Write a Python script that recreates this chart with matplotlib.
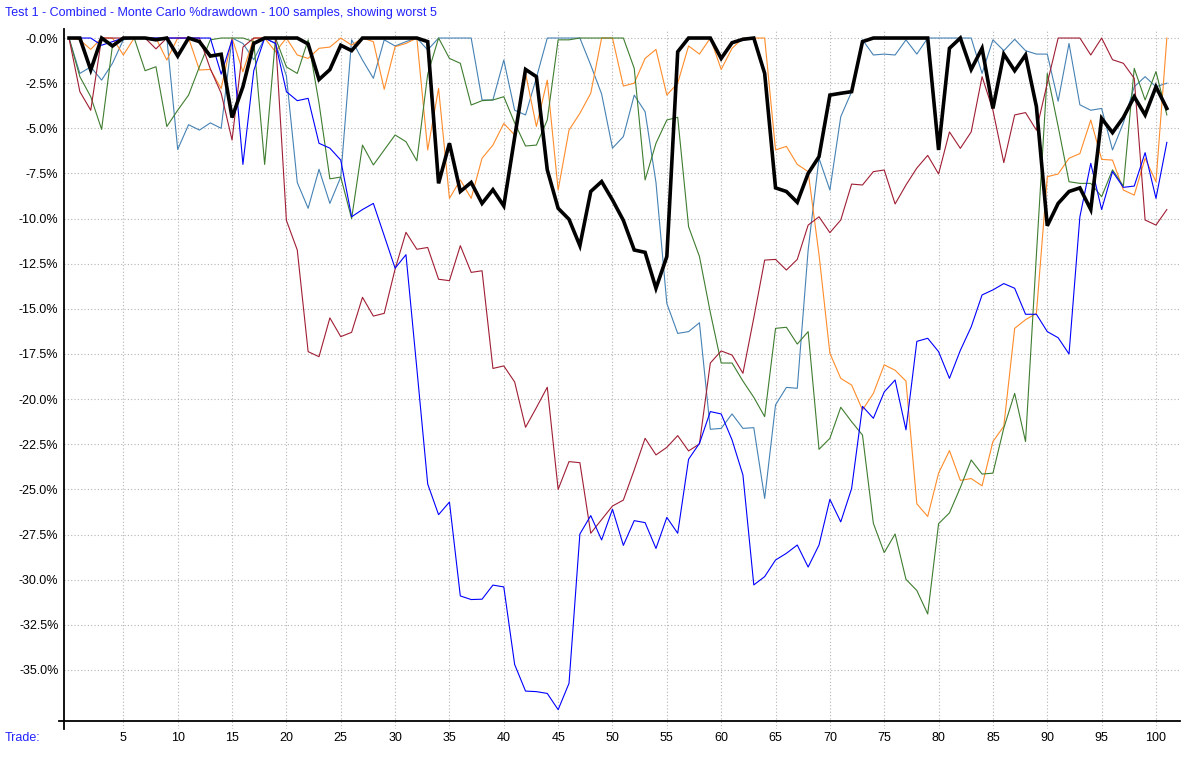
import matplotlib
matplotlib.use('Agg')
import matplotlib.pyplot as plt
from matplotlib.ticker import FuncFormatter

plt.rcParams['font.family'] = ['Liberation Sans', 'DejaVu Sans']

title = "Test 1 - Combined - Monte Carlo %drawdown - 100 samples, showing worst 5"

trades = list(range(102))

# % drawdown per trade for the five worst samples, plus the bold one
dd_steel = [0, -1.96, -1.6, -2.33, -1.4, -0.1, 0, 0, 0, 0,
            -6.17, -4.8, -5.1, -4.7, -5.0, 0, -0.3, -1.2, 0, -0.3,
            -2.1, -8.0, -9.43, -7.27, -9.16, -7.7, -0.1, -1.22, -2.23, -0.1,
            -0.44, -0.2, 0, -0.66, 0, 0, 0, 0, -3.43, -3.43,
            -1.22, -4.0, -4.26, -2.2, 0, 0, 0, 0, -1.5, -3.1,
            -6.1, -5.46, -3.16, -4.08, -8.0, -14.7, -16.36, -16.26, -15.77, -21.67,
            -21.62, -20.82, -21.62, -21.58, -25.5, -20.32, -19.35, -19.4, -11.74, -6.66,
            -8.42, -4.36, -2.97, -0.1, -0.94, -0.89, -0.94, -0.1, -0.89, 0,
            0, 0, 0, 0, -1.96, -0.1, -0.7, -0.07, -0.7, -0.89,
            -0.89, -3.5, -0.3, -3.7, -4.0, -3.9, -6.2, -4.7, -2.7, -2.14,
            -2.7, -2.5]

dd_orange = [0, -0.1, -0.63, 0, 0, -0.94, 0, 0, 0, -1.22,
             0, 0, -1.77, -1.74, -2.8, 0, -1.87, 0, 0, -0.76,
             0, -0.94, -1.13, -0.57, -0.5, 0, -0.39, 0, -0.2, -2.84,
             -0.48, -0.3, 0, -6.2, -2.79, -8.88, -7.86, -8.88, -6.66, -5.93,
             -4.73, -5.37, -1.96, -4.9, -2.33, -8.42, -5.1, -4.17, -3.06, 0,
             0, -2.66, -2.5, -1.13, -0.63, -3.16, -2.5, -0.44, -0.89, 0,
             -1.74, -0.57, 0, 0, 0, -6.2, -6.0, -7.0, -7.4, -12.0,
             -17.46, -18.85, -19.22, -20.6, -19.68, -18.1, -18.4, -19.0, -25.8, -26.5,
             -24.1, -22.85, -24.5, -24.4, -24.8, -22.35, -21.5, -16.08, -15.6, -15.25,
             -7.68, -7.53, -6.66, -6.4, -4.54, -6.72, -6.76, -8.42, -8.7, -6.66,
             -7.96, 0]

dd_green = [0, -2.14, -3.25, -5.06, -0.4, 0, 0, -1.81, -1.59, -4.9,
            -4.0, -3.16, -1.59, -0.1, 0, 0, 0, -0.2, -7.0, 0,
            -1.6, -1.96, -0.1, -3.6, -7.8, -7.7, -10.0, -5.93, -7.03, -6.2,
            -5.37, -5.74, -6.8, -2.0, 0, -1.13, -1.4, -3.71, -3.47, -3.43,
            -3.25, -4.7, -5.98, -5.93, -4.54, -0.1, -0.1, 0, 0, 0,
            0, 0, -1.68, -7.86, -5.83, -4.54, -4.39, -10.45, -12.1, -15.2,
            -18.0, -18.0, -19.0, -19.9, -20.97, -16.08, -16.02, -16.95, -16.26, -22.78,
            -22.17, -20.45, -21.25, -21.99, -26.88, -28.5, -27.47, -29.98, -30.6, -31.9,
            -26.9, -26.3, -24.9, -23.37, -24.15, -24.1, -21.6, -19.68, -22.35, -12.0,
            -1.96, -4.9, -7.96, -8.05, -8.05, -8.79, -7.3, -8.2, -1.68, -3.43,
            -1.86, -4.26]

dd_red = [0, -2.97, -4.0, 0, 0, 0, 0, 0, -0.6, 0,
          0, 0, 0, -1.7, -3.06, -5.65, -0.5, 0, 0, 0,
          -10.1, -11.74, -17.37, -17.65, -15.5, -16.54, -16.3, -14.36, -15.4, -15.25,
          -12.8, -10.76, -11.7, -11.6, -13.36, -13.44, -11.5, -12.98, -12.89, -18.3,
          -18.16, -19.05, -21.56, -20.47, -19.34, -25.0, -23.46, -23.52, -27.43, -26.67,
          -25.92, -25.59, -23.92, -22.17, -23.09, -22.67, -22.02, -22.87, -22.48, -18.0,
          -17.33, -17.56, -18.57, -15.5, -12.3, -12.26, -12.85, -12.26, -10.36, -9.9,
          -10.78, -10.08, -8.09, -8.14, -7.4, -7.31, -9.19, -8.14, -7.2, -6.5,
          -7.53, -5.2, -6.11, -5.2, -2.14, -4.0, -6.9, -4.26, -4.13, -5.1,
          -2.5, 0, 0, 0, -0.94, 0, -1.2, -1.4, -2.23, -10.08,
          -10.36, -9.5]

dd_blue = [0, 0, 0, -0.4, -0.2, 0, 0, 0, 0, 0,
           0, 0, 0, 0, -2.0, -0.1, -7.0, -1.8, 0, -0.3,
           -2.97, -3.47, -3.34, -5.83, -6.1, -6.76, -9.9, -9.5, -9.16, -10.95,
           -12.75, -12.0, -18.3, -24.7, -26.4, -25.7, -30.9, -31.1, -31.08, -30.3,
           -30.4, -34.7, -36.17, -36.2, -36.3, -37.2, -35.74, -27.47, -26.45, -27.8,
           -26.1, -28.1, -26.73, -26.84, -28.27, -26.55, -27.43, -23.33, -22.45, -20.69,
           -20.82, -22.26, -24.2, -30.29, -29.83, -28.91, -28.54, -28.08, -29.3, -28.08,
           -25.55, -26.8, -24.95, -20.4, -21.06, -19.6, -18.94, -21.7, -16.8, -16.63,
           -17.37, -18.85, -17.3, -16.0, -14.23, -13.95, -13.6, -13.86, -15.3, -15.3,
           -16.26, -16.6, -17.5, -9.9, -6.94, -9.5, -7.4, -8.27, -8.2, -6.35,
           -8.88, -5.78]

dd_bold = [0, 0, -1.77, 0, -0.44, 0, 0, 0, -0.1, 0,
           -1.0, 0, -0.2, -1.0, -0.9, -4.4, -2.7, -0.3, 0, 0,
           0, 0, -0.33, -2.3, -1.75, -0.4, -0.7, 0, 0, 0,
           0, 0, 0, -0.2, -8.05, -5.83, -8.5, -8.0, -9.16, -8.4,
           -9.3, -5.5, -1.74, -2.14, -7.3, -9.43, -10.04, -11.5, -8.5, -7.95,
           -8.97, -10.1, -11.74, -11.87, -13.86, -12.1, -0.76, 0, 0, 0,
           -1.13, -0.26, -0.07, 0, -1.96, -8.3, -8.5, -9.1, -7.5, -6.57,
           -3.16, -3.06, -2.97, -0.2, 0, 0, 0, 0, 0, 0,
           -6.2, -0.57, 0, -1.74, -0.57, -3.9, -0.89, -1.81, -0.94, -3.8,
           -10.4, -9.16, -8.5, -8.3, -9.5, -4.45, -5.24, -4.4, -3.25, -4.26,
           -2.7, -3.9]

x_ticks = list(range(5, 101, 5))
y_ticks = [-2.5 * i for i in range(15)]

W, H = 1184, 761
fig = plt.figure(figsize=(W / 100, H / 100), dpi=100)
fig.patch.set_facecolor('white')
ax = fig.add_axes([64 / W, 32 / H, 1116 / W, 700 / H])

thin = [(dd_steel, '#4682B4'), (dd_orange, '#FF8C2A'), (dd_green, '#3F7D30'),
        (dd_red, '#A01E34'), (dd_blue, '#0000FF')]
for vals, col in thin:
    ax.plot(trades, vals, color=col, lw=0.8, zorder=3)
ax.plot(trades, dd_bold, color='black', lw=2.6, zorder=4, solid_joinstyle='miter')

ax.set_xlim(-0.46, 102.21)
ax.set_ylim(-38.27, 0.5)

ax.set_xticks(x_ticks)
ax.set_yticks(y_ticks)
ax.yaxis.set_major_formatter(FuncFormatter(lambda v, p: '-%.1f%%' % abs(v)))
ax.tick_params(axis='both', length=0, labelsize=9, colors='black')
ax.tick_params(axis='y', pad=4)
ax.tick_params(axis='x', pad=2)

ax.grid(True, color='#B4B4B4', linestyle=(0, (1, 2)), lw=0.8, zorder=1)
for s in ['top', 'right', 'bottom']:
    ax.spines[s].set_visible(False)
ax.spines['left'].set_linewidth(1.3)
ax.spines['left'].set_color('black')
ax.axhline(-37.82, color='black', lw=1.3, xmin=-0.0045, clip_on=False, zorder=5)

fig.text(5 / W, 1 - 13 / H, title, color='#2222FF', fontsize=9, va='center', ha='left')
fig.text(5 / W, 1 - 738 / H, 'Trade:', color='#2222FF', fontsize=9, va='center', ha='left')

fig.savefig('out.png', dpi=100)
